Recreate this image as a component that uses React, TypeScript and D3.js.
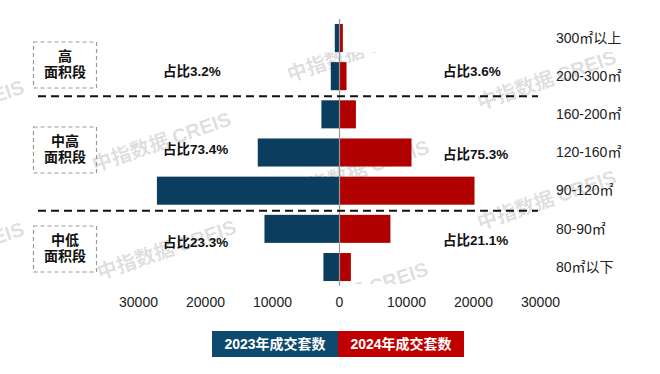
import * as d3 from 'd3';

const categories = ['300㎡以上', '200-300㎡', '160-200㎡', '120-160㎡', '90-120㎡', '80-90㎡', '80㎡以下'];
const values2023 = [700, 1300, 2700, 12200, 27250, 11200, 2400];
const values2024 = [500, 1050, 2450, 10750, 20150, 7600, 1700];
const xTickValues = [-30000, -20000, -10000, 0, 10000, 20000, 30000];
const seriesNames = ['2023年成交套数', '2024年成交套数'];

const groupNames = [['高', '面积段'], ['中高', '面积段'], ['中低', '面积段']];
const share2023 = ['占比3.2%', '占比73.4%', '占比23.3%'];
const share2024 = ['占比3.6%', '占比75.3%', '占比21.1%'];
// category index after which a dashed separator is drawn
const separatorsAfter = [1, 4];

const W = 660;
const H = 374;
const BLUE = '#0a3d5e';
const RED = '#b00000';
const FONT = '"Liberation Sans", Arial, "Noto Sans CJK SC", sans-serif';

// layout of group annotations (box centre y, left/right label y)
const groupLayout = [
  { box: 65, left: 72, right: 72 },
  { box: 150, left: 150, right: 155 },
  { box: 249, left: 243, right: 241 },
];

// watermark starting points (decoration)
const marks = [
  [-112, 140], [95, 172], [100, 280], [290, 82], [293, 200], [292, 322], [480, 110], [480, 230], [-112, 282],
];

export default function App() {
  const x = d3.scaleLinear().domain([-30000, 30000]).range([138.5, 540.5]);
  const y = d3.scaleBand<string>().domain(categories).range([19, 286]).paddingInner(0.265).paddingOuter(0.13);
  const bw = y.bandwidth();
  const step = y.step();
  const x0 = x(0);

  const sepY = separatorsAfter.map(i => y(categories[i])! + bw + (step - bw) / 2 + 1);

  return (
    <svg width={W} height={H} viewBox={`0 0 ${W} ${H}`}
      style={{ position: 'absolute', left: 0, top: 0, background: '#fff' }} fontFamily={FONT}>
      <defs>
        <clipPath id="wm">
          <rect x={0} y={52} width={W} height={232} />
        </clipPath>
      </defs>

      {/* Watermarks */}
      <g clipPath="url(#wm)">
        {marks.map(([mx, my], i) => (
          <text key={`wm-${i}`} transform={`translate(${mx},${my}) rotate(-19)`}
            fontSize={20} fontWeight={700} fill="#000" fillOpacity={0.14}
            fontFamily='"Noto Sans CJK SC", sans-serif'>
            中指数据 <tspan fontFamily='"Liberation Sans", Arial, sans-serif'>CREIS</tspan>
          </text>
        ))}
      </g>

      {/* Bars */}
      {categories.map((c, i) => (
        <g key={`bar-${i}`}>
          <rect x={x(-values2023[i])} y={y(c)} width={x0 - x(-values2023[i])} height={bw} fill={BLUE} />
          <rect x={x0} y={y(c)} width={x(values2024[i]) - x0} height={bw} fill={RED} />
        </g>
      ))}

      {/* Zero axis */}
      <line x1={x0} x2={x0} y1={19} y2={286} stroke="#999" strokeWidth={1.2} />

      {/* Separators */}
      {sepY.map((sy, i) => (
        <line key={`sep-${i}`} x1={38} x2={538} y1={sy} y2={sy}
          stroke="#111" strokeWidth={2} strokeDasharray="8,5" />
      ))}

      {/* Category labels */}
      {categories.map((c, i) => (
        <text key={`cat-${i}`} x={556} y={y(c)! + bw / 2 + 1} dominantBaseline="middle"
          fontSize={14} fill="#222">{c}</text>
      ))}

      {/* Group boxes and shares */}
      {groupNames.map((g, i) => {
        const L = groupLayout[i];
        return (
          <g key={`grp-${i}`}>
            <rect x={33.5} y={L.box - 23} width={63} height={46} fill="none"
              stroke="#999" strokeWidth={1.2} strokeDasharray="4,3" />
            <text x={65} y={L.box - 8} textAnchor="middle" dominantBaseline="middle"
              fontSize={14} fontWeight={700} fill="#111">{g[0]}</text>
            <text x={65} y={L.box + 8} textAnchor="middle" dominantBaseline="middle"
              fontSize={14} fontWeight={700} fill="#111">{g[1]}</text>
            <text x={163} y={L.left} dominantBaseline="middle"
              fontSize={13.5} fontWeight={700} fill="#111">{share2023[i]}</text>
            <text x={443} y={L.right} dominantBaseline="middle"
              fontSize={13.5} fontWeight={700} fill="#111">{share2024[i]}</text>
          </g>
        );
      })}

      {/* X axis tick labels */}
      {xTickValues.map((t, i) => (
        <text key={`xt-${i}`} x={x(t)} y={303} textAnchor="middle" dominantBaseline="middle"
          fontSize={14} fill="#222">{d3.format('d')(Math.abs(t))}</text>
      ))}

      {/* Legend */}
      <g>
        <rect x={212} y={331} width={126} height={26} fill="#0d4a6e" />
        <rect x={338} y={331} width={126} height={26} fill="#c00000" />
        <text x={275} y={345} textAnchor="middle" dominantBaseline="middle"
          fontSize={14} fontWeight={700} fill="#fff">{seriesNames[0]}</text>
        <text x={401} y={345} textAnchor="middle" dominantBaseline="middle"
          fontSize={14} fontWeight={700} fill="#fff">{seriesNames[1]}</text>
      </g>
    </svg>
  );
}
